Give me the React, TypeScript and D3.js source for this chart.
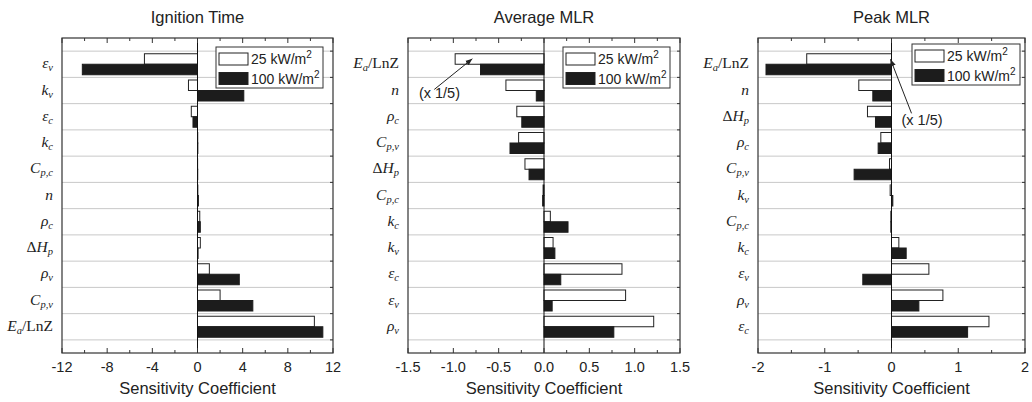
import React from 'react';
import * as d3 from 'd3';

type Label = { pre?: string; main: string; sub?: string; post?: string };

// category labels, top to bottom
const ignitionCats: Label[] = [
  { main: 'ε', sub: 'v' }, { main: 'k', sub: 'v' }, { main: 'ε', sub: 'c' }, { main: 'k', sub: 'c' },
  { main: 'C', sub: 'p,c' }, { main: 'n' }, { main: 'ρ', sub: 'c' }, { pre: 'Δ', main: 'H', sub: 'p' },
  { main: 'ρ', sub: 'v' }, { main: 'C', sub: 'p,v' }, { main: 'E', sub: 'a', post: '/LnZ' },
];
const ignition25 = [-4.7, -0.8, -0.55, 0.02, 0.01, 0.03, 0.2, 0.25, 1.05, 2.0, 10.35];
const ignition100 = [-10.2, 4.1, -0.4, 0.03, 0.02, 0.08, 0.25, 0.05, 3.7, 4.9, 11.1];

const avgCats: Label[] = [
  { main: 'E', sub: 'a', post: '/LnZ' }, { main: 'n' }, { main: 'ρ', sub: 'c' }, { main: 'C', sub: 'p,v' },
  { pre: 'Δ', main: 'H', sub: 'p' }, { main: 'C', sub: 'p,c' }, { main: 'k', sub: 'c' }, { main: 'k', sub: 'v' },
  { main: 'ε', sub: 'c' }, { main: 'ε', sub: 'v' }, { main: 'ρ', sub: 'v' },
];
const avg25 = [-0.98, -0.42, -0.3, -0.28, -0.21, -0.01, 0.07, 0.1, 0.86, 0.9, 1.21];
const avg100 = [-0.7, -0.085, -0.245, -0.375, -0.165, -0.015, 0.265, 0.12, 0.185, 0.09, 0.77];

const peakCats: Label[] = [
  { main: 'E', sub: 'a', post: '/LnZ' }, { main: 'n' }, { pre: 'Δ', main: 'H', sub: 'p' }, { main: 'ρ', sub: 'c' },
  { main: 'C', sub: 'p,v' }, { main: 'k', sub: 'v' }, { main: 'C', sub: 'p,c' }, { main: 'k', sub: 'c' },
  { main: 'ε', sub: 'v' }, { main: 'ρ', sub: 'v' }, { main: 'ε', sub: 'c' },
];
const peak25 = [-1.27, -0.49, -0.36, -0.16, -0.03, -0.02, -0.01, 0.11, 0.56, 0.77, 1.46];
const peak100 = [-1.88, -0.28, -0.24, -0.2, -0.56, 0.02, -0.01, 0.22, -0.43, 0.41, 1.14];

const seriesNames = ['25 kW/m', '100 kW/m'];

const TOP = 38;
const BOTTOM = 353;
const sans = 'Arial, "Liberation Sans", sans-serif';
const serif = '"Times New Roman", "Liberation Serif", serif';

// plain hyphen for negatives, like the original figure
const hyphen = (f: (v: number) => string) => (v: number) => f(v).replace('−', '-');

type PanelProps = {
  title: string;
  left: number;
  right: number;
  domain: [number, number];
  major: number;
  minor: number;
  fmt: (v: number) => string;
  cats: Label[];
  v25: number[];
  v100: number[];
  legend: { x: number; y: number; w: number };
  note?: { tip: [number, number]; tail: [number, number]; text: [number, number] };
};

const Panel = (props: PanelProps) => {
  const { title, left, right, domain, major, minor, fmt, cats, v25, v100, legend, note } = props;
  const x = d3.scaleLinear().domain(domain).range([left, right]);
  const n = cats.length;
  const y = d3.scaleLinear().domain([0, n + 1]).range([BOTTOM, TOP]);
  const bandH = y(0) - y(1);
  const barH = bandH * 0.4;
  const majorTicks = d3.range(domain[0], domain[1] + major / 2, major);
  const minorTicks = d3.range(domain[0], domain[1] + minor / 2, minor).filter(
    (v) => !majorTicks.some((m) => Math.abs(m - v) < 1e-9)
  );
  const grid = d3.range(0.5, n + 1, 1);

  return (
    <g>
      <text x={x(0)} y={23} textAnchor="middle" fontFamily={sans} fontSize={16.5} fill="#222">{title}</text>
      {grid.map((g) => (
        <g key={g}>
          <line x1={left} x2={right} y1={y(g)} y2={y(g)} stroke="#c8c8c8" strokeWidth={1} />
          <line x1={right - 3} x2={right} y1={y(g)} y2={y(g)} stroke="#333" />
        </g>
      ))}
      {cats.map((c, i) => {
        const pos = n - i;
        const yc = y(pos);
        const a = v25[i];
        const b = v100[i];
        return (
          <g key={i}>
            <rect x={Math.min(x(0), x(a))} y={yc - barH} width={Math.abs(x(a) - x(0))} height={barH}
              fill="#fff" stroke="#222" strokeWidth={1} />
            <rect x={Math.min(x(0), x(b))} y={yc} width={Math.abs(x(b) - x(0))} height={barH}
              fill="#1c1c1c" stroke="#1c1c1c" strokeWidth={1} />
            <text x={left - 9} y={yc + 4} textAnchor="end" fontFamily={serif} fontSize={15.5} fill="#222">
              {c.pre && <tspan fontStyle="normal">{c.pre}</tspan>}
              <tspan fontStyle="italic">{c.main}</tspan>
              {c.sub && <tspan fontStyle="italic" fontSize={10.5} dy={3}>{c.sub}</tspan>}
              {c.post && <tspan fontStyle="normal" dy={c.sub ? -3 : 0}>{c.post}</tspan>}
            </text>
          </g>
        );
      })}
      <line x1={x(0)} x2={x(0)} y1={TOP} y2={BOTTOM} stroke="#111" strokeWidth={1} />
      <rect x={left} y={TOP} width={right - left} height={BOTTOM - TOP} fill="none" stroke="#333" strokeWidth={1.2} />
      {majorTicks.map((t) => (
        <g key={'M' + t}>
          <line x1={x(t)} x2={x(t)} y1={BOTTOM} y2={BOTTOM - 5} stroke="#333" />
          <line x1={x(t)} x2={x(t)} y1={TOP} y2={TOP + 5} stroke="#333" />
          <text x={x(t)} y={372} textAnchor="middle" fontFamily={sans} fontSize={14.5} fill="#222">{fmt(t)}</text>
        </g>
      ))}
      {minorTicks.map((t) => (
        <g key={'m' + t}>
          <line x1={x(t)} x2={x(t)} y1={BOTTOM} y2={BOTTOM - 3} stroke="#333" />
          <line x1={x(t)} x2={x(t)} y1={TOP} y2={TOP + 3} stroke="#333" />
        </g>
      ))}
      <text x={x(0)} y={394} textAnchor="middle" fontFamily={sans} fontSize={16.5} fill="#222">Sensitivity Coefficient</text>
      <g transform={`translate(${legend.x},${legend.y})`}>
        <rect x={0} y={0} width={legend.w} height={41} fill="#fff" stroke="#333" strokeWidth={1} />
        {seriesNames.map((s, i) => (
          <g key={s}>
            <rect x={3} y={6 + i * 19.5} width={29} height={12} fill={i === 0 ? '#fff' : '#1c1c1c'} stroke="#222" />
            <text x={35} y={17 + i * 19.5} fontFamily={sans} fontSize={14} fill="#222">
              {s}<tspan fontSize={10} dy={-6}>2</tspan>
            </text>
          </g>
        ))}
      </g>
      {note && (
        <g>
          <line x1={x(note.tail[0])} y1={y(note.tail[1])} x2={x(note.tip[0])} y2={y(note.tip[1])}
            stroke="#222" strokeWidth={1} markerEnd="url(#arrow)" />
          <text x={x(note.text[0])} y={y(note.text[1])} fontFamily={sans} fontSize={14.5} fill="#222">(x 1/5)</text>
        </g>
      )}
    </g>
  );
};

export default function App() {
  return (
    <svg width={1032} height={402} style={{ position: 'absolute', left: 0, top: 0, background: '#fff' }}>
      <defs>
        <marker id="arrow" viewBox="0 0 10 10" refX={10} refY={5} markerWidth={7} markerHeight={7} orient="auto"
          markerUnits="userSpaceOnUse">
          <path d="M0,1 L10,5 L0,9 Z" fill="#222" />
        </marker>
      </defs>
      <rect width={1032} height={402} fill="#fff" />
      <Panel title="Ignition Time" left={62} right={333} domain={[-12, 12]} major={4} minor={2}
        fmt={hyphen(d3.format('d'))} cats={ignitionCats} v25={ignition25} v100={ignition100}
        legend={{ x: 216, y: 47, w: 107 }} />
      <Panel title="Average MLR" left={408} right={680} domain={[-1.5, 1.5]} major={0.5} minor={0.25}
        fmt={hyphen(d3.format('.1f'))} cats={avgCats} v25={avg25} v100={avg100}
        legend={{ x: 563, y: 47, w: 107 }}
        note={{ tip: [-0.79, 11.21], tail: [-1.21, 10.04], text: [-1.38, 9.72] }} />
      <Panel title="Peak MLR" left={758} right={1025} domain={[-2, 2]} major={1} minor={0.5}
        fmt={hyphen(d3.format('d'))} cats={peakCats} v25={peak25} v100={peak100}
        legend={{ x: 912, y: 44, w: 108 }}
        note={{ tip: [-0.015, 11.19], tail: [0.3, 9.13], text: [0.15, 8.7] }} />
    </svg>
  );
}
